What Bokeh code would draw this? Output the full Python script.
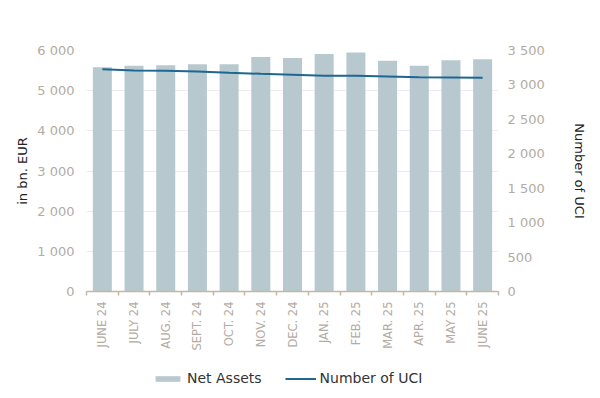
import math
from bokeh.plotting import figure
from bokeh.layouts import column
from bokeh.models import (Range1d, LinearAxis, FixedTicker, Legend, LegendItem,
                          ColumnDataSource)
from bokeh.embed import file_html
from bokeh.resources import INLINE

months = ["JUNE 24", "JULY 24", "AUG. 24", "SEPT. 24", "OCT. 24", "NOV. 24",
          "DEC. 24", "JAN. 25", "FEB. 25", "MAR. 25", "APR. 25", "MAY 25", "JUNE 25"]
net_assets = [5580, 5620, 5635, 5655, 5655, 5840, 5815, 5915, 5950, 5745, 5620, 5760, 5785]
uci = [3228, 3209, 3205, 3195, 3176, 3161, 3147, 3132, 3132, 3122, 3112, 3107, 3103]
left_ticks = [0, 1000, 2000, 3000, 4000, 5000, 6000]
right_ticks = [0, 500, 1000, 1500, 2000, 2500, 3000, 3500]

FONT = "DejaVu Sans"
TICK_COL = "#b3aca3"
BAR_COL = "#b7c9ce"
LINE_COL = "#1d6793"
AXIS_COL = "#c2b6a6"

idx = list(range(len(months)))
src = ColumnDataSource(dict(x=idx, na=net_assets, uci=uci))

p = figure(width=598, height=360, output_backend="svg", toolbar_location=None,
           x_range=Range1d(-0.5, len(months) - 0.5), y_range=Range1d(0, 6000),
           min_border_left=86, min_border_right=100, min_border_top=50, min_border_bottom=69)
p.extra_y_ranges = {"uci": Range1d(0, 3500)}
p.outline_line_color = None
p.background_fill_color = "white"
p.border_fill_color = "white"

bars = p.vbar(x="x", top="na", width=0.6, source=src, fill_color=BAR_COL, line_color=None)
line = p.line(x="x", y="uci", source=src, y_range_name="uci", line_color=LINE_COL, line_width=2)

fmt = lambda v: f"{v:,}".replace(",", " ")

# x axis
xa = p.xaxis[0]
xa.ticker = FixedTicker(ticks=idx, minor_ticks=[i - 0.5 for i in range(len(months) + 1)])
xa.major_label_overrides = {i: m for i, m in enumerate(months)}
xa.major_label_orientation = math.pi / 2
xa.major_label_text_font = FONT
xa.major_label_text_font_size = "11.5px"
xa.major_label_text_color = TICK_COL
xa.major_tick_out = 0
xa.major_tick_in = 0
xa.minor_tick_out = 4
xa.minor_tick_in = 0
xa.minor_tick_line_color = AXIS_COL
xa.minor_tick_line_width = 1.5
xa.axis_line_color = AXIS_COL
xa.axis_line_width = 1.5
xa.major_label_standoff = 6

# left axis
ya = p.yaxis[0]
ya.ticker = FixedTicker(ticks=left_ticks)
ya.major_label_overrides = {v: fmt(v) for v in left_ticks}
ya.major_label_text_font = FONT
ya.major_label_text_font_size = "13px"
ya.major_label_text_color = TICK_COL
ya.major_tick_out = 0
ya.major_tick_in = 0
ya.minor_tick_out = 0
ya.minor_tick_in = 0
ya.axis_line_color = None
ya.major_label_standoff = 12
ya.axis_label = "in bn. EUR"
ya.axis_label_text_font = FONT
ya.axis_label_text_font_size = "13px"
ya.axis_label_text_font_style = "normal"
ya.axis_label_text_color = "#222222"
ya.axis_label_standoff = 4

# right axis
ra = LinearAxis(y_range_name="uci", ticker=FixedTicker(ticks=right_ticks))
ra.major_label_overrides = {v: fmt(v) for v in right_ticks}
ra.major_label_text_font = FONT
ra.major_label_text_font_size = "13px"
ra.major_label_text_color = TICK_COL
ra.major_tick_out = 0
ra.major_tick_in = 0
ra.minor_tick_out = 0
ra.minor_tick_in = 0
ra.axis_line_color = None
ra.major_label_standoff = 9
ra.axis_label = "Number of UCI"
ra.axis_label_text_font = FONT
ra.axis_label_text_font_size = "13px"
ra.axis_label_text_font_style = "normal"
ra.axis_label_text_color = "#222222"
ra.axis_label_standoff = 24
p.add_layout(ra, "right")

p.xgrid.grid_line_color = None
p.ygrid.grid_line_color = "#ececec"
p.ygrid.ticker = FixedTicker(ticks=left_ticks)

# legend strip (separate figure below the chart)
q = figure(width=598, height=32, output_backend="svg", toolbar_location=None,
           x_range=Range1d(0, 1), y_range=Range1d(0, 1),
           min_border=0, min_border_left=0, min_border_right=0,
           min_border_top=0, min_border_bottom=0)
q.axis.visible = False
q.grid.visible = False
q.outline_line_color = None
hidden = ColumnDataSource(dict(x=[float("nan"), float("nan")], y=[float("nan"), float("nan")]))
lb = q.vbar(x="x", top="y", width=0.6, source=hidden, fill_color=BAR_COL, line_color=None)
ll = q.line(x="x", y="y", source=hidden, line_color=LINE_COL, line_width=2)

legend = Legend(items=[LegendItem(label="Net Assets", renderers=[lb]),
                       LegendItem(label="Number of UCI", renderers=[ll])],
                orientation="horizontal", location=(66, 6),
                glyph_width=31, glyph_height=7, label_height=7, label_standoff=4,
                spacing=23, padding=0, margin=0,
                label_text_font=FONT, label_text_font_size="14px",
                label_text_color="#333333",
                border_line_color=None, background_fill_alpha=0)
q.add_layout(legend, "center")

layout = column(p, q, spacing=0)
open("out.html", "w").write(file_html(layout, INLINE))
